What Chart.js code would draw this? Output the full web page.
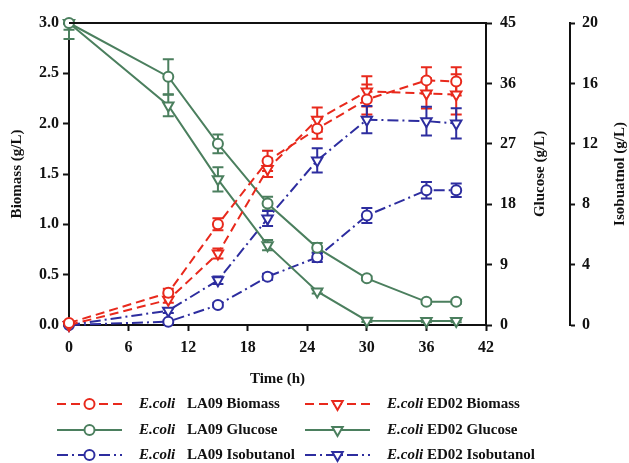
<!DOCTYPE html>
<html>
<head>
<meta charset="utf-8">
<title>E.coli LA09 / ED02 fermentation</title>
<script src="https://cdn.jsdelivr.net/npm/chart.js@4.4.1/dist/chart.umd.min.js"></script>
<style>
    html, body { margin: 0; padding: 0; background: #fff; }
    #chartWrap { width: 629px; height: 463px; }
</style>
</head>
<body>
<div id="chartWrap"><canvas id="fermentChart" width="629" height="463"></canvas></div>
<script>
/* ============================================
   Fermentation time course data
============================================ */

// Sampling times (h)
const timeHours = [0, 10, 15, 20, 25, 30, 36, 39];

// Biomass (g/L) - left axis
const la09Biomass = [0.02, 0.32, 1.00, 1.63, 1.95, 2.24, 2.43, 2.42];
const la09BiomassErr = [0.02, 0.04, 0.06, 0.10, 0.10, 0.15, 0.13, 0.14];
const ed02Biomass = [0.00, 0.25, 0.71, 1.55, 2.04, 2.32, 2.30, 2.29];
const ed02BiomassErr = [0.01, 0.03, 0.05, 0.08, 0.12, 0.15, 0.15, 0.20];

// Glucose (g/L) - first right axis
const la09Glucose = [45, 37.0, 27.0, 18.1, 11.5, 6.95, 3.45, 3.45];
const la09GlucoseErr = [1.0, 2.6, 1.4, 1.0, 0.7, 0.3, 0.3, 0.3];
const ed02Glucose = [45, 32.7, 21.7, 11.9, 5.0, 0.65, 0.6, 0.6];
const ed02GlucoseErr = [2.4, 1.6, 1.8, 0.75, 0.3, 0.2, 0.2, 0.2];

// Isobutanol (g/L) - outer right axis
const la09Isobutanol = [0, 0.22, 1.32, 3.2, 4.48, 7.25, 8.92, 8.92];
const la09IsobutanolErr = [0.05, 0.1, 0.15, 0.2, 0.3, 0.5, 0.55, 0.45];
const ed02Isobutanol = [0, 0.95, 2.96, 7.05, 10.9, 13.6, 13.5, 13.35];
const ed02IsobutanolErr = [0.05, 0.15, 0.25, 0.5, 0.8, 0.9, 0.95, 1.0];

// Tick labels
const timeTicks = [0, 6, 12, 18, 24, 30, 36, 42];
const biomassTicks = [0, 0.5, 1.0, 1.5, 2.0, 2.5, 3.0];
const glucoseTicks = [0, 9, 18, 27, 36, 45];
const isobutanolTicks = [0, 4, 8, 12, 16, 20];

// Colours
const RED = '#e8291c';
const GREEN = '#4b7f5e';
const BLUE = '#2d2d9f';
const INK = '#111111';

const FONT_FAMILY = "'Liberation Serif', 'Times New Roman', serif";
const tickFont = { family: FONT_FAMILY, size: 16, weight: 'bold' };
const titleFont = { family: FONT_FAMILY, size: 15, weight: 'bold' };

/**
 * Build one line dataset
 */
function makeSeries(label, strain, values, errors, color, dash, axis, style) {
    return {
        label: label,
        strain: strain,
        data: timeHours.map((t, i) => ({ x: t, y: values[i] })),
        errors: errors,
        yAxisID: axis,
        borderColor: color,
        backgroundColor: '#ffffff',
        borderWidth: 2,
        borderDash: dash,
        tension: 0,
        pointStyle: style,
        pointRotation: style === 'triangle' ? 180 : 0,
        pointRadius: style === 'triangle' ? 6 : 5,
        pointBorderWidth: 2,
        pointBackgroundColor: '#ffffff',
        pointBorderColor: color,
        clip: false,
    };
}

const DASH_RED = [9, 5];
const DASH_BLUE = [11, 4, 2, 4];

const datasets = [
    makeSeries('LA09 Biomass', 'E.coli', la09Biomass, la09BiomassErr, RED, DASH_RED, 'yBiomass', 'circle'),
    makeSeries('ED02 Biomass', 'E.coli', ed02Biomass, ed02BiomassErr, RED, DASH_RED, 'yBiomass', 'triangle'),
    makeSeries('LA09 Glucose', 'E.coli', la09Glucose, la09GlucoseErr, GREEN, [], 'yGlucose', 'circle'),
    makeSeries('ED02 Glucose', 'E.coli', ed02Glucose, ed02GlucoseErr, GREEN, [], 'yGlucose', 'triangle'),
    makeSeries('LA09 Isobutanol', 'E.coli', la09Isobutanol, la09IsobutanolErr, BLUE, DASH_BLUE, 'yIsobutanol', 'circle'),
    makeSeries('ED02 Isobutanol', 'E.coli', ed02Isobutanol, ed02IsobutanolErr, BLUE, DASH_BLUE, 'yIsobutanol', 'triangle'),
];

/**
 * Shared axis look: thick black line, outward ticks
 */
function axisStyle(tickList) {
    return {
        type: 'linear',
        min: tickList[0],
        max: tickList[tickList.length - 1],
        afterBuildTicks: (scale) => {
            scale.ticks = tickList.map(v => ({ value: v }));
        },
        border: { display: true, color: INK, width: 2 },
        grid: {
            display: true,
            drawOnChartArea: false,
            drawTicks: true,
            tickLength: 6,
            tickWidth: 2,
            tickColor: INK,
            color: INK,
        },
        ticks: { color: INK, font: tickFont, padding: 8 },
    };
}

/**
 * Error bars, drawn under the markers
 */
const errorBarPlugin = {
    id: 'errorBars',
    beforeDatasetsDraw(chart) {
        const ctx = chart.ctx;
        const area = chart.chartArea;
        const xScale = chart.scales.x;
        ctx.save();
        ctx.beginPath();
        ctx.rect(area.left - 10, area.top - 1, area.right - area.left + 20, area.bottom - area.top + 2);
        ctx.clip();
        chart.data.datasets.forEach(ds => {
            const yScale = chart.scales[ds.yAxisID];
            ctx.strokeStyle = ds.borderColor;
            ctx.lineWidth = 2;
            ctx.setLineDash([]);
            ds.data.forEach((pt, i) => {
                const err = ds.errors[i];
                const px = xScale.getPixelForValue(pt.x);
                const yHi = yScale.getPixelForValue(pt.y + err);
                const yLo = yScale.getPixelForValue(pt.y - err);
                ctx.beginPath();
                ctx.moveTo(px, yHi);
                ctx.lineTo(px, yLo);
                ctx.moveTo(px - 5.5, yHi);
                ctx.lineTo(px + 5.5, yHi);
                ctx.moveTo(px - 5.5, yLo);
                ctx.lineTo(px + 5.5, yLo);
                ctx.stroke();
            });
        });
        ctx.restore();
    }
};

/**
 * Frame top line, right axis titles and the two-column legend
 */
const decorPlugin = {
    id: 'decor',
    afterDraw(chart) {
        const ctx = chart.ctx;
        const area = chart.chartArea;
        const midY = (area.top + area.bottom) / 2;

        // Top frame line
        ctx.save();
        ctx.strokeStyle = INK;
        ctx.lineWidth = 2;
        ctx.beginPath();
        ctx.moveTo(area.left, area.top);
        ctx.lineTo(area.right, area.top);
        ctx.stroke();

        // Right axis titles (read bottom to top)
        ctx.fillStyle = INK;
        ctx.font = `bold 15px ${FONT_FAMILY}`;
        ctx.textAlign = 'center';
        ctx.textBaseline = 'middle';
        const glucoseScale = chart.scales.yGlucose;
        const isoScale = chart.scales.yIsobutanol;
        [[glucoseScale.right - 30, 'Glucose (g/L)'], [isoScale.right - 9, 'Isobuatnol (g/L)']].forEach(([tx, text]) => {
            ctx.save();
            ctx.translate(tx, midY);
            ctx.rotate(-Math.PI / 2);
            ctx.fillText(text, 0, 0);
            ctx.restore();
        });

        // Legend
        const rows = [404, 430, 455];
        const columns = [
            { x0: 57, x1: 122, strainX: 139, labelX: 187 },
            { x0: 305, x1: 370, strainX: 387, labelX: 427 },
        ];
        chart.data.datasets.forEach((ds, i) => {
            const col = columns[i % 2];
            const y = rows[Math.floor(i / 2)];

            ctx.strokeStyle = ds.borderColor;
            ctx.lineWidth = 2;
            ctx.setLineDash(ds.borderDash);
            ctx.beginPath();
            ctx.moveTo(col.x0, y);
            ctx.lineTo(col.x1, y);
            ctx.stroke();
            ctx.setLineDash([]);

            ctx.fillStyle = '#ffffff';
            Chart.helpers.drawPoint(ctx, {
                pointStyle: ds.pointStyle,
                rotation: ds.pointRotation,
                radius: ds.pointRadius,
                borderWidth: 2,
            }, (col.x0 + col.x1) / 2, y);

            ctx.fillStyle = INK;
            ctx.textAlign = 'left';
            ctx.textBaseline = 'middle';
            ctx.font = `italic bold 15px ${FONT_FAMILY}`;
            ctx.fillText(ds.strain, col.strainX, y);
            ctx.font = `bold 15px ${FONT_FAMILY}`;
            ctx.fillText(ds.label, col.labelX, y);
        });
        ctx.restore();
    }
};

/**
 * Initialize chart
 */
document.addEventListener('DOMContentLoaded', () => {
    const ctx = document.getElementById('fermentChart');

    const xAxis = axisStyle(timeTicks);
    xAxis.position = 'bottom';
    xAxis.ticks.padding = 7;
    xAxis.title = { display: true, text: 'Time (h)', color: INK, font: titleFont, padding: 0 };
    xAxis.afterFit = (scale) => { scale.height = 63; };

    const yBiomass = axisStyle(biomassTicks);
    yBiomass.position = 'left';
    yBiomass.ticks.callback = (v) => Number(v).toFixed(1);
    yBiomass.ticks.padding = 4;
    yBiomass.title = { display: true, text: 'Biomass (g/L)', color: INK, font: titleFont, padding: 0 };
    yBiomass.afterFit = (scale) => { scale.width = 61; };

    const yGlucose = axisStyle(glucoseTicks);
    yGlucose.position = 'right';
    yGlucose.afterFit = (scale) => { scale.width = 84; };

    const yIsobutanol = axisStyle(isobutanolTicks);
    yIsobutanol.position = 'right';
    yIsobutanol.grid.tickLength = 5;
    yIsobutanol.ticks.padding = 7;
    yIsobutanol.afterFit = (scale) => { scale.width = 59; };

    new Chart(ctx, {
        type: 'line',
        data: { datasets: datasets },
        options: {
            responsive: false,
            animation: false,
            layout: { padding: { left: 8, right: 0, top: 23, bottom: 75 } },
            plugins: {
                legend: { display: false },
                tooltip: { enabled: false },
            },
            scales: {
                x: xAxis,
                yBiomass: yBiomass,
                yGlucose: yGlucose,
                yIsobutanol: yIsobutanol,
            }
        },
        plugins: [errorBarPlugin, decorPlugin]
    });
});
</script>
</body>
</html>
